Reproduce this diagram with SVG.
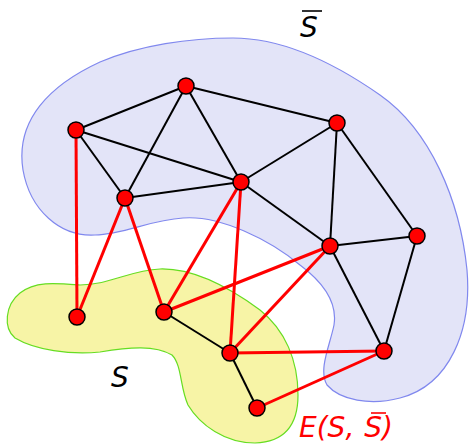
<svg xmlns="http://www.w3.org/2000/svg" width="469" height="446" viewBox="0 0 469 446">
<style>
.blob1{fill:#e3e4f8;stroke:#8088ee;stroke-width:1.2}
.blob2{fill:#f7f4a6;stroke:#66dd22;stroke-width:1.2}
.e{stroke:#000;stroke-width:2;fill:none}
.r{stroke:#ff0000;stroke-width:3;fill:none}
.n{fill:#ff0000;stroke:#000;stroke-width:1.5}
.lbl{font-family:"DejaVu Sans",sans-serif;font-style:oblique;font-size:28px}
</style>
<rect width="469" height="446" fill="#fff"/>
<g id="region-Sbar">
<path class="blob1" d="M233,38 C280,38 330,60 380,95 C430,130 460,200 467,270 C472,330 450,385 400,398 C370,406 340,400 327,385 C318,370 330,345 334,325 C338,300 320,280 300,265 C270,240 220,215 183,218 C150,220 125,234 95,235 C60,237 30,210 23,170 C15,120 50,85 100,62 C140,45 190,38 233,38 Z"/>
</g>
<g id="region-S">
<path class="blob2" d="M160,269 C195,268 230,288 260,310 C285,330 298,360 298,395 C298,425 285,442 255,443 C225,443 200,425 188,405 C180,388 182,365 172,355 C155,345 130,347 100,352 C70,355 35,350 15,338 C3,328 5,305 20,293 C35,281 55,283 80,285 C110,285 130,270 160,269 Z"/>
</g>
<g id="edges">
<line class="e" x1="76" y1="130" x2="186" y2="86"/>
<line class="e" x1="76" y1="130" x2="125" y2="198"/>
<line class="e" x1="76" y1="130" x2="241" y2="182"/>
<line class="e" x1="186" y1="86" x2="125" y2="198"/>
<line class="e" x1="186" y1="86" x2="241" y2="182"/>
<line class="e" x1="186" y1="86" x2="337" y2="123"/>
<line class="e" x1="125" y1="198" x2="241" y2="182"/>
<line class="e" x1="241" y1="182" x2="337" y2="123"/>
<line class="e" x1="241" y1="182" x2="330" y2="246"/>
<line class="e" x1="337" y1="123" x2="330" y2="246"/>
<line class="e" x1="337" y1="123" x2="417" y2="236"/>
<line class="e" x1="330" y1="246" x2="417" y2="236"/>
<line class="e" x1="330" y1="246" x2="384" y2="351"/>
<line class="e" x1="417" y1="236" x2="384" y2="351"/>
<line class="e" x1="164" y1="312" x2="230" y2="353"/>
<line class="e" x1="230" y1="353" x2="257" y2="408" stroke="#333"/>
<line class="r" x1="76" y1="130" x2="77" y2="317"/>
<line class="r" x1="125" y1="198" x2="77" y2="317"/>
<line class="r" x1="125" y1="198" x2="164" y2="312"/>
<line class="r" x1="241" y1="182" x2="164" y2="312"/>
<line class="r" x1="241" y1="182" x2="230" y2="353"/>
<line class="r" x1="330" y1="246" x2="164" y2="312"/>
<line class="r" x1="330" y1="246" x2="230" y2="353"/>
<line class="r" x1="384" y1="351" x2="230" y2="353"/>
<line class="r" x1="384" y1="351" x2="257" y2="408"/>
</g>
<g id="n1"><circle class="n" cx="76" cy="130" r="8"/></g>
<g id="n2"><circle class="n" cx="186" cy="86" r="8"/></g>
<g id="n3"><circle class="n" cx="337" cy="123" r="8"/></g>
<g id="n4"><circle class="n" cx="125" cy="198" r="8"/></g>
<g id="n5"><circle class="n" cx="241" cy="182" r="8"/></g>
<g id="n6"><circle class="n" cx="330" cy="246" r="8"/></g>
<g id="n7"><circle class="n" cx="417" cy="236" r="8"/></g>
<g id="n8"><circle class="n" cx="77" cy="317" r="8"/></g>
<g id="n9"><circle class="n" cx="164" cy="312" r="8"/></g>
<g id="n10"><circle class="n" cx="230" cy="353" r="8"/></g>
<g id="n11"><circle class="n" cx="384" cy="351" r="8"/></g>
<g id="n12"><circle class="n" cx="257" cy="408" r="8"/></g>
<g id="labels">
<text class="lbl" x="300" y="37">S</text>
<line x1="302" y1="11" x2="322" y2="11" stroke="#000" stroke-width="1.6"/>
<text class="lbl" x="111" y="387">S</text>
<text class="lbl" x="299" y="437" fill="#ff0000">E(S,<tspan dx="10">S</tspan>)</text>
<line x1="371" y1="413" x2="386" y2="413" stroke="#ff0000" stroke-width="1.6"/>
</g>
</svg>
